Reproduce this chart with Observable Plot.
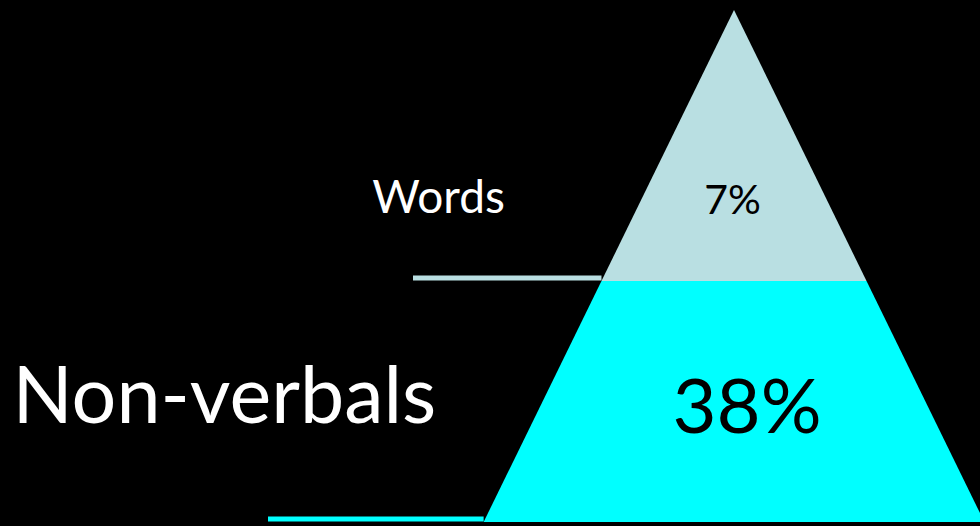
<!DOCTYPE html>
<html>
<head>
<meta charset="utf-8">
<script src="https://cdn.jsdelivr.net/npm/d3@7"></script>
<script src="https://cdn.jsdelivr.net/npm/@observablehq/plot@0.6"></script>
<style>
  html, body { margin: 0; padding: 0; background: #000; overflow: hidden; }
  #chart svg { display: block; }
</style>
</head>
<body>
<div id="chart"></div>
<script>
// Layers of the communication pyramid (top to bottom)
const layers = ["Words", "Non-verbals"];
const shares = [7, 38];              // percent
const layerTop = [0, 271];           // depth from apex (pyramid units)
const layerBottom = [271, 512];
const leaderStart = [-321, -466];    // left end of each leader line (offset from axis)
const colors = ["#b9dfe2", "#00ffff"];

const slope = 0.489;                 // half-width per unit depth

const areaRows = layers.flatMap((name, i) => [
  {layer: name, depth: layerTop[i], x1: -layerTop[i] * slope, x2: layerTop[i] * slope, color: colors[i]},
  {layer: name, depth: layerBottom[i], x1: -layerBottom[i] * slope, x2: layerBottom[i] * slope, color: colors[i]}
]);

const rules = layers.map((name, i) => ({
  layer: name, depth: layerBottom[i], x1: leaderStart[i], x2: -layerBottom[i] * slope, color: colors[i]
}));

const rows = layers.map((name, i) => ({name, share: shares[i], top: layerTop[i], bottom: layerBottom[i], i}));

const font = "Lato, 'Gill Sans', 'Open Sans', sans-serif";

const chart = Plot.plot({
  width: 980,
  height: 526,
  margin: 0,
  style: {background: "#000", fontFamily: font},
  x: {domain: [-734, 246], range: [0, 980], axis: null},
  y: {domain: [-10, 516], range: [0, 526], axis: null},
  marks: [
    Plot.areaX(areaRows, {y: "depth", x1: "x1", x2: "x2", z: "layer", fill: "color", curve: "linear"}),
    Plot.ruleY(rules, {y: "depth", x1: "x1", x2: "x2", stroke: "color", strokeWidth: 5, dy: -3.5}),
    // category labels
    Plot.text(rows.filter(d => d.i === 0), {
      x: d => -296, y: d => d.top + 188, text: "name",
      fill: "#fff", fontSize: 46, textAnchor: "middle", fontFamily: font
    }),
    Plot.text(rows.filter(d => d.i === 1), {
      x: d => -722, y: d => d.top + 116, text: "name",
      fill: "#fff", fontSize: 79, textAnchor: "start", fontFamily: font
    }),
    // share labels
    Plot.text(rows.filter(d => d.i === 0), {
      x: d => -2, y: d => d.top + 190, text: d => d.share + "%",
      fill: "#000", fontSize: 41, textAnchor: "middle", fontFamily: font
    }),
    Plot.text(rows.filter(d => d.i === 1), {
      x: d => 12.5, y: d => d.top + 127, text: d => d.share + "%",
      fill: "#000", fontSize: 76, textAnchor: "middle", fontFamily: font
    })
  ]
});
document.getElementById("chart").append(chart);
</script>
</body>
</html>
